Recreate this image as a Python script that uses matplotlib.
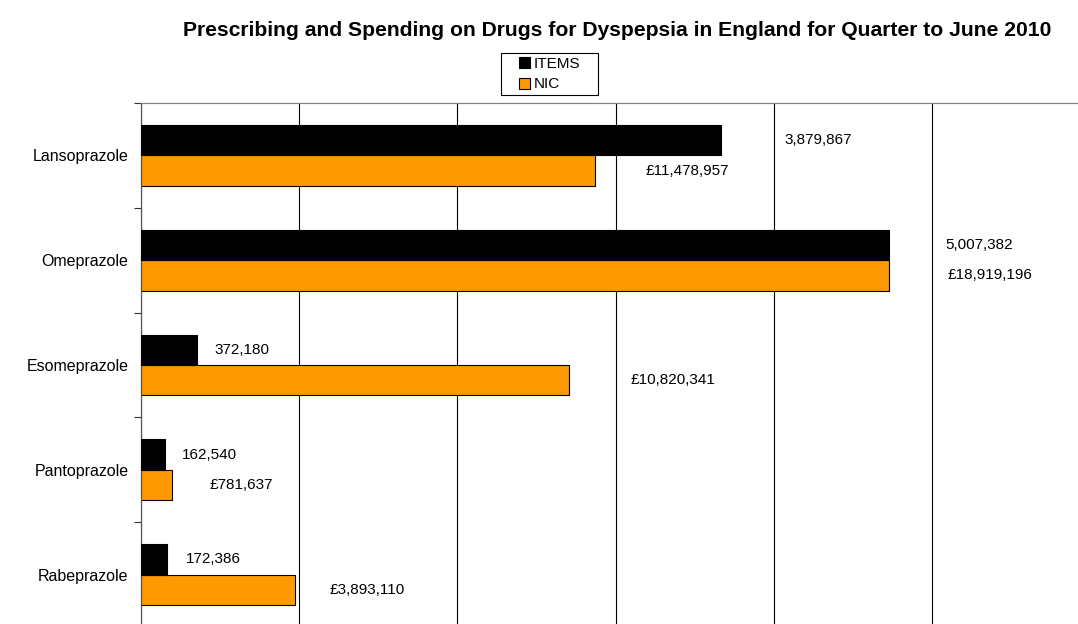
import matplotlib.pyplot as plt
from matplotlib.patches import Patch, Rectangle
from matplotlib.ticker import MultipleLocator, FixedLocator, NullFormatter

plt.rcParams["font.family"] = ["Liberation Sans", "DejaVu Sans"]

drugs = ["Lansoprazole", "Omeprazole", "Esomeprazole", "Pantoprazole", "Rabeprazole"]
items = [3879867, 5007382, 372180, 162540, 172386]
nic = [11478957, 18919196, 10820341, 781637, 3893110]

# label offsets in pixels from bar end (Excel placed them unevenly)
item_off = [64, 56, 18, 17, 19]
nic_off = [51, 58, 62, 38, 35]

ORANGE = "#FF9900"
W, H = 1078, 624


def main() -> None:
    fig = plt.figure(figsize=(W / 100, H / 100), dpi=100)
    left, right, top, bottom = 141, 1090, 103, 627
    ax = fig.add_axes([left / W, 1 - bottom / H, (right - left) / W, (bottom - top) / H])
    ax2 = ax.twiny()

    n = len(drugs)
    ypos = list(range(n))
    bh = 0.29
    nic_max = 24_000_000
    ax.set_xlim(0, nic_max)
    ax2.set_xlim(0, nic_max * max(items) / max(nic))
    ax.set_ylim(n - 0.5, -0.5)

    ax.barh([y + bh / 2 for y in ypos], nic, height=bh, color=ORANGE,
            edgecolor="black", linewidth=0.8, zorder=3)
    ax2.barh([y - bh / 2 for y in ypos], items, height=bh, color="black",
             edgecolor="black", linewidth=0.8, zorder=3)

    for i in range(n):
        ax2.annotate(f"{items[i]:,}", (items[i], i - bh / 2), xytext=(item_off[i], 0),
                     textcoords="offset pixels", va="center", ha="left", fontsize=11)
        ax.annotate(f"£{nic[i]:,}", (nic[i], i + bh / 2), xytext=(nic_off[i], 0),
                    textcoords="offset pixels", va="center", ha="left", fontsize=11)

    ax.xaxis.set_major_locator(MultipleLocator(4_000_000))
    ax.grid(axis="x", color="black", linewidth=0.8, zorder=0)
    ax.tick_params(axis="x", length=0, labelbottom=False)
    ax2.tick_params(axis="x", length=0, labeltop=False)

    ax.set_yticks(ypos)
    ax.set_yticklabels(drugs, fontsize=11.5)
    ax.tick_params(axis="y", which="major", length=0, pad=9)
    ax.yaxis.set_minor_locator(FixedLocator([y - 0.5 for y in range(n + 1)]))
    ax.yaxis.set_minor_formatter(NullFormatter())
    ax.tick_params(axis="y", which="minor", length=5, width=0.8, color="#333333")

    for a in (ax, ax2):
        a.spines["right"].set_visible(False)
        a.spines["bottom"].set_visible(False)
        a.spines["top"].set_color("#808080")
        a.spines["left"].set_color("#555555")
    ax2.set_zorder(ax.get_zorder() + 1)
    ax2.patch.set_visible(False)

    fig.text(617 / W, 1 - 30 / H,
             "Prescribing and Spending on Drugs for Dyspepsia in England for Quarter to June 2010",
             ha="center", va="center", fontsize=15.2, fontweight="bold")

    # legend box drawn by hand, Excel pads it wider than matplotlib would
    fig.patches.append(Rectangle((501 / W, 1 - 95 / H), 97 / W, 42 / H,
                                 transform=fig.transFigure, facecolor="white",
                                 edgecolor="black", linewidth=0.8))
    handles = [Patch(facecolor="black", edgecolor="black", linewidth=0.8),
               Patch(facecolor=ORANGE, edgecolor="black", linewidth=0.8)]
    fig.legend(handles, ["ITEMS", "NIC"], loc="center left",
               bbox_to_anchor=(519 / W, 1 - 74 / H),
               frameon=False, fontsize=11,
               handlelength=0.75, handleheight=0.75, handletextpad=0.2,
               labelspacing=0.45, borderpad=0, borderaxespad=0)

    fig.savefig("out.png", dpi=100)
    plt.close(fig)


if __name__ == "__main__":
    main()
